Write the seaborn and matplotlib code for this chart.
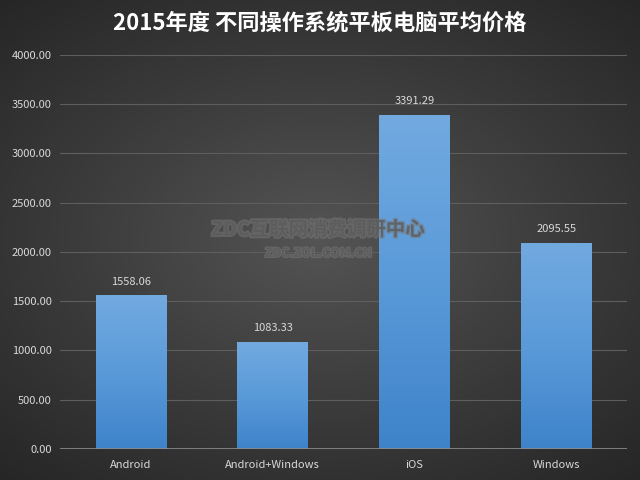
import numpy as np
import pandas as pd
import matplotlib
matplotlib.use('Agg')
from matplotlib import pyplot as plt
import matplotlib.patheffects as pe
from matplotlib.colors import LinearSegmentedColormap
import seaborn as sns

systems = ['Android', 'Android+Windows', 'iOS', 'Windows']
prices = [1558.06, 1083.33, 3391.29, 2095.55]
yticks = [0, 500, 1000, 1500, 2000, 2500, 3000, 3500, 4000]
title = '2015年度 不同操作系统平板电脑平均价格'

data = pd.DataFrame({'system': systems, 'price': prices})

sns.set_style('dark')
plt.rcParams['font.family'] = ['Noto Sans CJK SC', 'DejaVu Sans']

fig = plt.figure(figsize=(6.4, 4.8), dpi=100)

# radial gradient background
bg = fig.add_axes([0, 0, 1, 1], zorder=-10)
yy, xx = np.mgrid[-1:1:240j, -1:1:320j]
r = np.sqrt((xx * 0.9) ** 2 + (yy * 1.0) ** 2)
bg_cmap = LinearSegmentedColormap.from_list('bg', ['#545454', '#3c3c3c', '#262626'])
bg.imshow(r, cmap=bg_cmap, aspect='auto', extent=[0, 1, 0, 1], vmin=0, vmax=1.35)
bg.axis('off')

ax = fig.add_axes([0.094, 0.0646, 0.886, 0.821])
ax.patch.set_alpha(0)
sns.barplot(data=data, x='system', y='price', ax=ax, color='#5b9bd5', width=0.5,
            saturation=1, linewidth=0, zorder=3)

# gradient fill for the bars
bar_cmap = LinearSegmentedColormap.from_list('bar', ['#3e83c9', '#5a9ad9', '#72aae0'])
grad = np.linspace(0, 1, 256).reshape(-1, 1)
for p in ax.patches:
    x0, y0 = p.get_x(), p.get_y()
    w, h = p.get_width(), p.get_height()
    im = ax.imshow(grad, cmap=bar_cmap, origin='lower', aspect='auto',
                   extent=[x0, x0 + w, y0, y0 + h], zorder=4)
    im.set_clip_path(p)
    ax.text(x0 + w / 2, y0 + h + 90, f'{h:.2f}', ha='center', va='bottom',
            color='#d9d9d9', fontsize=8, zorder=5)

ax.set_xlim(-0.5, 3.5)
ax.set_ylim(0, 4000)
ax.set_yticks(yticks)
ax.set_yticklabels([f'{v:.2f}' for v in yticks])
ax.grid(axis='y', color='#5e5e5e', linewidth=0.8, zorder=0)
ax.grid(axis='x', visible=False)
ax.axhline(0, color='#8c8c8c', linewidth=1.2, zorder=6)
for s in ax.spines.values():
    s.set_visible(False)
ax.tick_params(axis='y', colors='#d9d9d9', labelsize=8, length=0, pad=6)
ax.tick_params(axis='x', colors='#d9d9d9', labelsize=8, length=0, pad=8)
ax.set_xlabel('')
ax.set_ylabel('')

fig.text(0.5, 0.952, title, ha='center', va='center', color='white',
         fontsize=16, fontweight='bold')

# watermark
fig.text(0.497, 0.521, 'ZDC互联网消费调研中心', ha='center', va='center', color='#555555',
         fontsize=14, fontweight='bold', alpha=0.55,
         path_effects=[pe.withStroke(linewidth=2.2, foreground='#7a7a7a')])
fig.text(0.497, 0.472, 'ZDC.ZOL.COM.CN', ha='center', va='center', color='#555555',
         fontsize=9, fontweight='bold', alpha=0.55,
         path_effects=[pe.withStroke(linewidth=1.6, foreground='#7a7a7a')])

fig.savefig('out.png', dpi=100)
